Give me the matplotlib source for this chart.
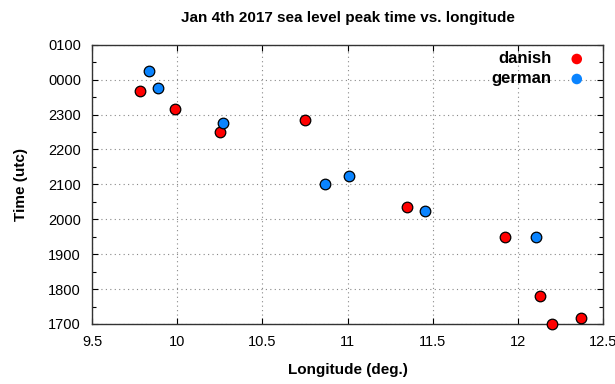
import matplotlib
matplotlib.use("Agg")
import matplotlib.pyplot as plt
from matplotlib.ticker import MultipleLocator, FuncFormatter

plt.rcParams['font.family'] = ['Liberation Sans', 'DejaVu Sans']

# peak time in hours utc on Jan 4th (values > 24 are after midnight)
danish_lon = [9.78, 9.99, 10.25, 10.75, 11.35, 11.925, 12.13, 12.2, 12.37]
danish_time = [23.67, 23.16, 22.51, 22.85, 20.34, 19.48, 17.81, 17.0, 17.16]

german_lon = [9.836, 9.89, 10.27, 10.87, 11.007, 11.457, 12.105]
german_time = [24.25, 23.75, 22.76, 21.0, 21.25, 20.25, 19.48]


def hour_label(v, pos):
    h = int(round(v)) % 24
    return "%02d00" % h


fig, ax = plt.subplots(figsize=(6.15, 3.84), dpi=100)
fig.subplots_adjust(left=0.1496, right=0.9805, top=0.8836, bottom=0.1563)

ax.scatter(danish_lon, danish_time, s=58, color='#ff0000', edgecolors='black',
           linewidths=0.9, label='danish', zorder=3, clip_on=False)
ax.scatter(german_lon, german_time, s=58, color='#0a84ff', edgecolors='black',
           linewidths=0.9, label='german', zorder=3, clip_on=False)

ax.set_xlim(9.5, 12.5)
ax.set_ylim(17, 25)
ax.xaxis.set_major_locator(MultipleLocator(0.5))
ax.xaxis.set_major_formatter(FuncFormatter(lambda v, p: "%g" % v))
ax.yaxis.set_major_locator(MultipleLocator(1))
ax.yaxis.set_minor_locator(MultipleLocator(0.5))
ax.yaxis.set_major_formatter(FuncFormatter(hour_label))

ax.grid(True, which='major', linestyle=(0, (1, 3)), color='#888888', linewidth=0.8)
ax.tick_params(which='both', direction='in', top=True, right=True, labelsize=10.5,
               length=4, width=0.8, pad=8)
ax.tick_params(which='minor', length=3)
for s in ax.spines.values():
    s.set_linewidth(1.0)
    s.set_color('#333333')

ax.set_title("Jan 4th 2017 sea level peak time vs. longitude", fontsize=11,
             fontweight='bold', pad=16)
ax.set_xlabel("Longitude (deg.)", fontsize=11, fontweight='bold', labelpad=10)
ax.set_ylabel("Time (utc)", fontsize=11, fontweight='bold', labelpad=14)

leg = ax.legend(loc='upper right', bbox_to_anchor=(0.978, 1.0), frameon=False,
                markerfirst=False, fontsize=12, handletextpad=1.0,
                labelspacing=0.3, borderaxespad=0, handlelength=1.0)
for t in leg.get_texts():
    t.set_fontweight('bold')
for h in leg.legend_handles:
    h.set_edgecolor('none')

fig.savefig("out.png", dpi=100)
